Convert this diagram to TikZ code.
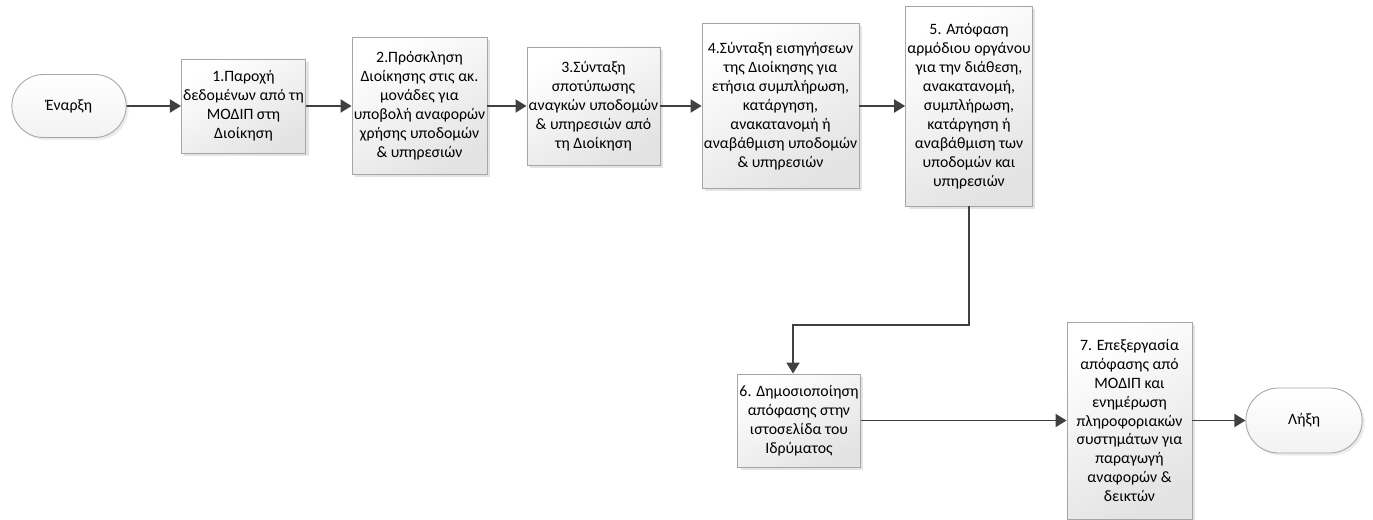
\documentclass[tikz,border=0pt]{standalone}
\usepackage{fontspec}
\setmainfont{Carlito}
\usetikzlibrary{arrows.meta,shapes.misc,shadows}

\newcommand\rowtop{-2.12}
\newcommand\rowbottom{-8.41}

\tikzset{
  stepbox/.style={draw=gray!70,line width=0.5pt,align=center,inner sep=1pt,
    top color=white,bottom color=gray!22,shading angle=30,
    drop shadow={shadow xshift=0.6mm,shadow yshift=-0.6mm,fill=gray!35,opacity=0.6},
    font=\fontsize{9}{10.8}\selectfont},
  terminal/.style={draw=gray!70,line width=0.5pt,rounded rectangle,align=center,
    top color=white,bottom color=gray!10,
    drop shadow={shadow xshift=0.5mm,shadow yshift=-0.5mm,fill=gray!30,opacity=0.5},
    font=\fontsize{9}{10.8}\selectfont},
  flow/.style={draw=black!75,line width=1.1pt,-{Triangle[length=2.2mm,width=2.6mm]}}
}

\begin{document}
\begin{tikzpicture}
    \useasboundingbox (0,0) rectangle (27.46,-10.4);

    \node[terminal,minimum width=2.52cm,minimum height=1.26cm] (start) at (1.38,\rowtop) {Έναρξη};
    \node[stepbox,minimum width=2.46cm,minimum height=1.88cm] (stepone) at (4.87,\rowtop) {1.Παροχή\\δεδομένων από τη\\ΜΟΔΙΠ στη\\Διοίκηση};
    \node[stepbox,minimum width=2.54cm,minimum height=2.74cm] (steptwo) at (8.39,\rowtop) {2.Πρόσκληση\\Διοίκησης στις ακ.\\μονάδες για\\υποβολή αναφορών\\χρήσης υποδομών\\\& υπηρεσιών};
    \node[stepbox,minimum width=2.5cm,minimum height=2.36cm] (stepthree) at (11.87,\rowtop) {3.Σύνταξη\\σποτύπωσης\\αναγκών υποδομών\\\& υπηρεσιών από\\τη Διοίκηση};
    \node[stepbox,minimum width=2.9cm,minimum height=3.3cm] (stepfour) at (15.61,\rowtop) {4.Σύνταξη εισηγήσεων\\της Διοίκησης για\\ετήσια συμπλήρωση,\\κατάργηση,\\ανακατανομή ή\\αναβάθμιση υποδομών\\\& υπηρεσιών};
    \node[stepbox,minimum width=2.48cm,minimum height=4.0cm] (stepfive) at (19.38,\rowtop) {5. Απόφαση\\αρμόδιου οργάνου\\για την διάθεση,\\ανακατανομή,\\συμπλήρωση,\\κατάργηση ή\\αναβάθμιση των\\υποδομών και\\υπηρεσιών};

    \node[stepbox,minimum width=2.34cm,minimum height=1.86cm] (stepsix) at (15.98,\rowbottom) {6. Δημοσιοποίηση\\απόφασης στην\\ιστοσελίδα του\\Ιδρύματος};
    \node[stepbox,minimum width=2.5cm,minimum height=3.94cm] (stepseven) at (22.59,\rowbottom) {7. Επεξεργασία\\απόφασης από\\ΜΟΔΙΠ και\\ενημέρωση\\πληροφοριακών\\συστημάτων για\\παραγωγή\\αναφορών \&\\δεικτών};
    \node[terminal,minimum width=2.56cm,minimum height=1.3cm] (finish) at (26.08,\rowbottom) {Λήξη};

    \coordinate (turn) at (15.86,-6.5);

    \draw[flow] (start) -- (stepone);
    \draw[flow] (stepone) -- (steptwo);
    \draw[flow] (steptwo) -- (stepthree);
    \draw[flow] (stepthree) -- (stepfour);
    \draw[flow] (stepfour) -- (stepfive);
    \draw[flow] (stepfive.south) |- (turn) -- (turn |- stepsix.north);
    \draw[flow] (stepsix) -- (stepseven);
    \draw[flow] (stepseven) -- (finish);
  \end{tikzpicture}
\end{document}
